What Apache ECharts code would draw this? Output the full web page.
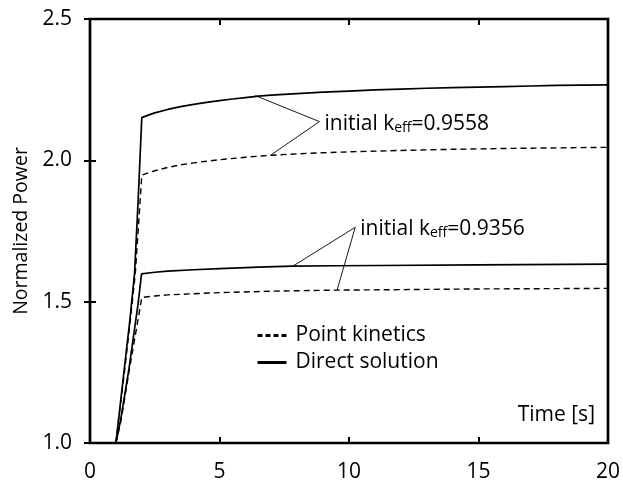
<!DOCTYPE html>
<html lang="en">
<head>
    <meta charset="UTF-8">
    <title>Normalized Power</title>
    <script src="https://cdn.jsdelivr.net/npm/echarts@6/dist/echarts.min.js"></script>
    <style>
        html, body { margin: 0; padding: 0; background: #fff; }
        #chart { width: 623px; height: 488px; }
    </style>
</head>
<body>
<div id="chart"></div>
<script>
    // values: time [s] and normalized power
    var t_direct_hi = [1, 1.1, 1.32, 1.54, 1.72, 1.86, 2.0, 2.25, 2.5, 3, 3.5, 4, 4.5, 5, 5.5, 6, 6.5, 7, 8, 9, 10, 11, 12, 13, 14, 15, 16, 17, 18, 19, 20]
    var p_direct_hi = [1.0, 1.08, 1.26, 1.435, 1.6, 1.86, 2.151, 2.16, 2.168, 2.18, 2.19, 2.198, 2.205, 2.211, 2.217, 2.222, 2.227, 2.231, 2.236, 2.241, 2.245, 2.249, 2.252, 2.255, 2.257, 2.259, 2.261, 2.263, 2.265, 2.266, 2.267]
    var t_pk_hi = [1, 1.1, 1.33, 1.55, 1.75, 1.88, 2.0, 2.25, 2.5, 3, 3.5, 4, 4.5, 5, 6, 7, 8, 9, 10, 12, 14, 16, 18, 20]
    var p_pk_hi = [1.0, 1.08, 1.25, 1.43, 1.6, 1.78, 1.948, 1.956, 1.963, 1.975, 1.984, 1.991, 1.997, 2.002, 2.011, 2.018, 2.023, 2.027, 2.030, 2.035, 2.039, 2.042, 2.044, 2.046]
    var t_direct_lo = [1, 1.18, 1.5, 1.86, 1.99, 2.5, 3, 4, 5, 6.5, 7.8, 9.5, 11.2, 15, 20]
    var p_direct_lo = [1.0, 1.08, 1.26, 1.495, 1.598, 1.604, 1.608, 1.613, 1.617, 1.622, 1.626, 1.627, 1.628, 1.630, 1.633]
    var t_pk_lo = [1, 1.2, 1.52, 1.88, 2.0, 2.5, 3, 4, 5, 7, 9.5, 11.2, 15, 20]
    var p_pk_lo = [1.0, 1.08, 1.26, 1.45, 1.515, 1.52, 1.524, 1.528, 1.532, 1.537, 1.541, 1.542, 1.545, 1.547]

    // leader lines: [point on direct curve, label anchor, point on point-kinetics curve]
    var leader_hi = [[6.38, 2.229], [8.86, 2.137], [6.97, 2.018]]
    var leader_lo = [[7.84, 1.626], [10.24, 1.763], [9.54, 1.541]]
    var keff_hi = '0.9558'
    var keff_lo = '0.9356'

    var legend_names = ['Point kinetics', 'Direct solution']
    var font = '"Open Sans", "Noto Sans", sans-serif'

    function pairs(t, p) {
        var out = []
        for (var i = 0; i < t.length; i++) out.push([t[i], p[i]])
        return out
    }

    function curve(name, t, p, dashed) {
        return {
            name: name,
            type: 'line',
            data: pairs(t, p),
            symbol: 'none',
            lineStyle: dashed ? {color: '#000', width: 1.4, type: [6, 4]} : {color: '#000', width: 1.7},
            itemStyle: {color: '#000'},
            z: 3
        }
    }

    function leader(pts) {
        return {
            type: 'line',
            data: pts,
            symbol: 'none',
            lineStyle: {color: '#000', width: 0.9},
            silent: true,
            z: 2
        }
    }

    function anchorLabel(pt, keff) {
        return {
            type: 'scatter',
            data: [pt],
            symbolSize: 0,
            silent: true,
            itemStyle: {opacity: 1, color: '#000'},
            label: {
                show: true,
                position: 'right',
                distance: 5,
                offset: [0, 2],
                color: '#000',
                formatter: '{a|initial k}{s|eff}{a|=' + keff + '}',
                rich: {
                    a: {fontFamily: font, fontSize: 21, lineHeight: 22, color: '#000'},
                    s: {fontFamily: font, fontSize: 14, lineHeight: 3, verticalAlign: 'bottom', color: '#000'}
                }
            },
            z: 4
        }
    }

    var chart = echarts.init(document.getElementById('chart'))
    var option = {
        animation: false,
        backgroundColor: '#fff',
        grid: {
            left: 90, right: 14, top: 19, bottom: 45,
            show: true, borderColor: '#000', borderWidth: 2.7, backgroundColor: 'transparent'
        },
        legend: {
            orient: 'vertical',
            left: 256,
            top: 325,
            padding: 0,
            itemWidth: 29,
            itemHeight: 14,
            itemGap: 6,
            selectedMode: false,
            textStyle: {fontFamily: font, fontSize: 21, color: '#000', padding: [0, 0, 0, 4]},
            data: [
                {name: legend_names[0], itemStyle: {opacity: 0}, lineStyle: {color: '#000', width: 3, type: [5, 3]}},
                {name: legend_names[1], itemStyle: {opacity: 0}, lineStyle: {color: '#000', width: 3}}
            ]
        },
        xAxis: [{
            type: 'value', min: 0, max: 20, interval: 5,
            axisLine: {show: false},
            axisTick: {show: true, inside: true, length: 6, lineStyle: {color: '#000', width: 2}},
            axisLabel: {fontFamily: font, fontSize: 21, color: '#000', margin: 19},
            splitLine: {show: false}
        }, {
            type: 'value', min: 0, max: 20, interval: 5, position: 'top',
            axisLine: {show: false},
            axisTick: {show: true, inside: true, length: 6, lineStyle: {color: '#000', width: 2}},
            axisLabel: {show: false},
            splitLine: {show: false}
        }],
        yAxis: [{
            type: 'value', min: 1.0, max: 2.5, interval: 0.5,
            name: 'Normalized Power',
            nameLocation: 'middle',
            nameGap: 55,
            nameTextStyle: {fontFamily: font, fontSize: 19.5, color: '#000'},
            axisLine: {show: false},
            axisTick: {show: true, inside: true, length: 6, lineStyle: {color: '#000', width: 2}},
            axisLabel: {fontFamily: font, fontSize: 21, color: '#000', margin: 18,
                formatter: function (v) { return v.toFixed(1) }},
            splitLine: {show: false}
        }, {
            type: 'value', min: 1.0, max: 2.5, interval: 0.5, position: 'right',
            axisLine: {show: false},
            axisTick: {show: true, inside: true, length: 6, lineStyle: {color: '#000', width: 2}},
            axisLabel: {show: false},
            splitLine: {show: false}
        }],
        graphic: [{
            type: 'text',
            right: 28,
            top: 405,
            style: {text: 'Time [s]', fontFamily: font, fontSize: 21, fill: '#000'}
        }],
        series: [
            curve(legend_names[1], t_direct_hi, p_direct_hi, false),
            curve(legend_names[0], t_pk_hi, p_pk_hi, true),
            curve(legend_names[1], t_direct_lo, p_direct_lo, false),
            curve(legend_names[0], t_pk_lo, p_pk_lo, true),
            leader(leader_hi),
            leader(leader_lo),
            anchorLabel(leader_hi[1], keff_hi),
            anchorLabel(leader_lo[1], keff_lo)
        ]
    }
    chart.setOption(option)
</script>
</body>
</html>
